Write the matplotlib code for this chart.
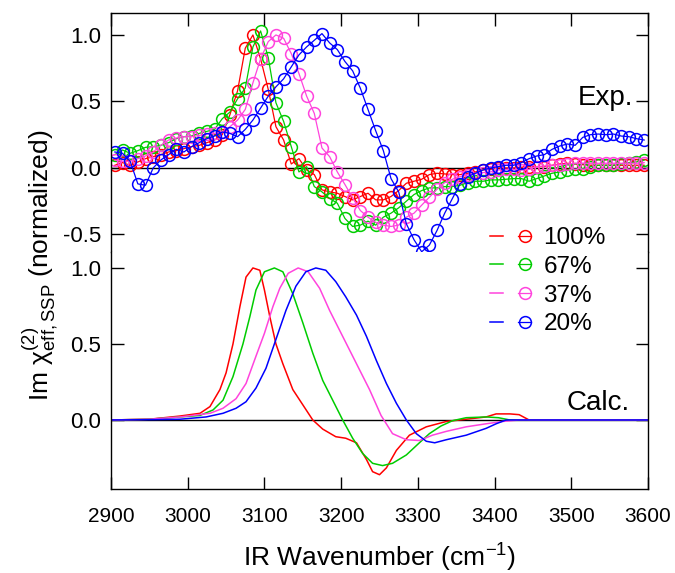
import matplotlib
matplotlib.use('Agg')
import matplotlib.pyplot as plt
from matplotlib.legend_handler import HandlerTuple
from matplotlib.lines import Line2D

plt.rcParams['font.family'] = ['Liberation Sans', 'DejaVu Sans']
plt.rcParams['mathtext.fontset'] = 'custom'
plt.rcParams['mathtext.rm'] = 'Liberation Sans'
plt.rcParams['mathtext.it'] = 'Liberation Sans:italic'

# ---- experimental spectra (open circles), read every ~10 cm-1 ----
wn_exp = [2905 + 10 * i for i in range(70)]

exp_100 = [0.02, 0.04, 0.02, 0.045, 0.07, 0.085, 0.10, 0.12, 0.13, 0.145,
           0.16, 0.17, 0.19, 0.21, 0.25, 0.40, 0.58, 0.90, 1.00, 0.82,
           0.59, 0.31, 0.21, 0.03, 0.07, -0.015, -0.05, -0.165, -0.18, -0.19,
           -0.215, -0.24, -0.215, -0.19, -0.24, -0.24, -0.215, -0.17, -0.115, -0.10,
           -0.085, -0.05, -0.04, -0.045, -0.05, -0.05, -0.04, -0.03, -0.015, -0.01,
           0.0, 0.0, 0.0, 0.005, 0.01, 0.01, 0.01, 0.02, 0.03, 0.035,
           0.03, 0.025, 0.02, 0.02, 0.02, 0.02, 0.02, 0.02, 0.02, 0.02]

exp_67 = [0.10, 0.135, 0.11, 0.13, 0.155, 0.16, 0.17, 0.19, 0.22, 0.235,
          0.24, 0.26, 0.275, 0.29, 0.37, 0.42, 0.52, 0.60, 0.91, 1.03,
          0.83, 0.49, 0.35, 0.16, -0.03, 0.01, -0.14, -0.18, -0.23, -0.265,
          -0.38, -0.44, -0.43, -0.40, -0.43, -0.37, -0.34, -0.30, -0.25, -0.20,
          -0.17, -0.15, -0.15, -0.14, -0.14, -0.13, -0.11, -0.10, -0.10, -0.09,
          -0.09, -0.085, -0.08, -0.08, -0.10, -0.08, -0.06, -0.04, -0.03, -0.015,
          -0.01, -0.005, 0.01, 0.02, 0.02, 0.02, 0.03, 0.04, 0.045, 0.06]

exp_37 = [0.06, 0.05, 0.05, 0.07, 0.09, 0.12, 0.17, 0.21, 0.225, 0.235,
          0.235, 0.245, 0.255, 0.26, 0.27, 0.31, 0.36, 0.44, 0.64, 0.82,
          0.95, 1.00, 0.975, 0.86, 0.71, 0.54, 0.41, 0.15, 0.085, -0.03,
          -0.125, -0.225, -0.32, -0.37, -0.41, -0.43, -0.44, -0.43, -0.37, -0.34,
          -0.28, -0.22, -0.16, -0.11, -0.085, -0.065, -0.05, -0.04, -0.035, -0.03,
          -0.015, -0.01, -0.01, -0.015, -0.01, 0.01, 0.015, 0.02, 0.025, 0.03,
          0.035, 0.035, 0.035, 0.035, 0.035, 0.035, 0.035, 0.035, 0.035, 0.04]

exp_20 = [0.12, 0.11, 0.05, -0.12, -0.13, 0.0, 0.06, 0.10, 0.14, 0.12,
          0.16, 0.19, 0.22, 0.24, 0.27, 0.26, 0.235, 0.29, 0.36, 0.45,
          0.54, 0.61, 0.67, 0.76, 0.85, 0.91, 0.96, 1.01, 0.94, 0.89,
          0.80, 0.73, 0.60, 0.44, 0.28, 0.13, -0.08, -0.18, -0.42, -0.54,
          -0.63, -0.58, -0.47, -0.34, -0.23, -0.12, -0.065, -0.04, -0.015, 0.0,
          0.01, 0.02, 0.02, 0.04, 0.07, 0.09, 0.10, 0.14, 0.165, 0.18,
          0.17, 0.23, 0.25, 0.255, 0.25, 0.255, 0.24, 0.235, 0.22, 0.21]

# ---- calculated spectra (lines) ----
wn_calc_100 = [2900, 2950, 2990, 3016, 3029, 3042, 3050, 3059, 3068, 3076, 3085,
               3094, 3100, 3107, 3115, 3124, 3137, 3150, 3163, 3176, 3193, 3206,
               3220, 3233, 3241, 3250, 3259, 3272, 3289, 3311, 3337, 3363, 3389,
               3402, 3420, 3432, 3445, 3460, 3600]
calc_100 = [0.0, 0.005, 0.026, 0.044, 0.088, 0.20, 0.31, 0.50, 0.745, 0.94, 1.0,
            0.985, 0.855, 0.68, 0.50, 0.37, 0.20, 0.10, 0.0, -0.06, -0.11, -0.12,
            -0.15, -0.26, -0.34, -0.36, -0.315, -0.20, -0.10, -0.045, -0.01, 0.005, 0.02,
            0.04, 0.04, 0.035, 0.0, 0.0, 0.0]

wn_calc_67 = [2900, 2950, 2990, 3016, 3033, 3046, 3059, 3072, 3081, 3089, 3100,
              3113, 3124, 3137, 3150, 3163, 3176, 3189, 3202, 3215, 3228, 3241,
              3254, 3267, 3285, 3302, 3315, 3330, 3345, 3363, 3389, 3405, 3420, 3600]
calc_67 = [0.0, 0.005, 0.02, 0.03, 0.066, 0.13, 0.285, 0.50, 0.68, 0.855, 0.975,
           1.0, 0.975, 0.83, 0.64, 0.44, 0.26, 0.13, 0.0, -0.12, -0.22, -0.285,
           -0.30, -0.285, -0.23, -0.15, -0.09, -0.04, -0.005, 0.015, 0.02, 0.015, 0.0, 0.0]

wn_calc_37 = [2900, 2950, 2990, 3029, 3046, 3063, 3076, 3089, 3100, 3111, 3120,
              3131, 3144, 3157, 3172, 3185, 3198, 3211, 3224, 3237, 3252, 3267,
              3285, 3302, 3319, 3337, 3363, 3389, 3410, 3432, 3600]
calc_37 = [0.0, 0.005, 0.02, 0.044, 0.077, 0.14, 0.24, 0.42, 0.57, 0.745, 0.866,
           0.965, 1.0, 0.975, 0.866, 0.72, 0.59, 0.46, 0.33, 0.20, 0.03, -0.09,
           -0.13, -0.135, -0.10, -0.075, -0.045, -0.025, -0.01, 0.0, 0.0]

wn_calc_20 = [2900, 2950, 2990, 3024, 3046, 3063, 3076, 3089, 3102, 3115, 3128,
              3141, 3154, 3167, 3180, 3193, 3206, 3220, 3233, 3246, 3259, 3272,
              3285, 3298, 3311, 3322, 3337, 3363, 3389, 3402, 3415, 3600]
calc_20 = [0.0, 0.002, 0.005, 0.02, 0.044, 0.077, 0.12, 0.21, 0.34, 0.53, 0.72,
           0.88, 0.975, 1.0, 0.985, 0.91, 0.81, 0.69, 0.55, 0.39, 0.24, 0.11,
           0.0, -0.09, -0.14, -0.15, -0.13, -0.10, -0.055, -0.025, 0.0, 0.0]

labels = ['100%', '67%', '37%', '20%']
colors = ['#FF0000', '#00CC00', '#FF44DD', '#0000FF']
exp_series = [exp_100, exp_67, exp_37, exp_20]
calc_wn = [wn_calc_100, wn_calc_67, wn_calc_37, wn_calc_20]
calc_series = [calc_100, calc_67, calc_37, calc_20]

x_ticks = [2900, 3000, 3100, 3200, 3300, 3400, 3500, 3600]

W, H = 675, 573
fig = plt.figure(figsize=(W / 100, H / 100), dpi=100)
left, right = 111 / W, 648 / W
ax1 = fig.add_axes([left, 1 - 252 / H, right - left, 239 / H])
ax2 = fig.add_axes([left, 1 - 489 / H, right - left, 237 / H])

# top: experiment
for y, c in zip(exp_series, colors):
    ax1.plot(wn_exp, y, color=c, lw=0.9, marker='o', ms=8.5, mfc='none',
             mec=c, mew=1.1)
ax1.axhline(0, color='k', lw=1.0, zorder=1)
ax1.set_xlim(2900, 3600)
ax1.set_ylim(-0.632, 1.165)
ax1.set_yticks([-0.5, 0.0, 0.5, 1.0])
ax1.set_yticklabels(['-0.5', '0.0', '0.5', '1.0'])
ax1.set_xticks(x_ticks)
ax1.tick_params(axis='x', direction='in', top=True, bottom=False,
                labeltop=False, labelbottom=False, length=9, width=1)
ax1.tick_params(axis='y', direction='in', left=True, right=True,
                length=9, width=1, labelsize=16, pad=7)
ax1.spines['bottom'].set_visible(False)
ax1.text(3580, 0.47, 'Exp.', fontsize=20, ha='right', va='baseline')

# bottom: calculation
for xw, y, c in zip(calc_wn, calc_series, colors):
    ax2.plot(xw, y, color=c, lw=1.1)
ax2.axhline(0, color='k', lw=1.0, zorder=1)
ax2.set_xlim(2900, 3600)
ax2.set_ylim(-0.454, 1.105)
ax2.set_yticks([0.0, 0.5, 1.0])
ax2.set_yticklabels(['0.0', '0.5', '1.0'])
ax2.set_xticks(x_ticks)
ax2.tick_params(axis='x', direction='in', top=False, bottom=True,
                length=9, width=1, labelsize=15, pad=13)
ax2.tick_params(axis='y', direction='in', left=True, right=True,
                length=9, width=1, labelsize=16, pad=7)
ax2.spines['top'].set_visible(False)
ax2.text(3576, 0.066, 'Calc.', fontsize=20, ha='right', va='baseline')

for ax in (ax1, ax2):
    for s in ax.spines.values():
        s.set_linewidth(1.0)

ax2.set_xlabel('IR Wavenumber (cm$^{-1}$)', fontsize=19, labelpad=11)
fig.text(40 / W, 1 - 265 / H,
         r'Im $\mathrm{χ}^{(2)}_{\mathrm{eff,SSP}}$ (normalized)',
         rotation=90, fontsize=19, ha='center', va='center')

# legend: calc line + exp marker per concentration
handles = []
for c in colors:
    h_line = Line2D([], [], color=c, lw=1.1)
    h_mark = Line2D([], [], color=c, lw=0.9, marker='o', ms=8.5,
                    mfc='none', mec=c, mew=1.1)
    handles.append((h_line, h_mark))
ax2.legend(handles, labels, handler_map={tuple: HandlerTuple(ndivide=None, pad=0.6)},
           loc='upper left', bbox_to_anchor=(490 / W, 1 - 227 / H),
           bbox_transform=fig.transFigure, frameon=False, fontsize=17.5,
           handlelength=1.7, handletextpad=0.5, labelspacing=0.28,
           borderpad=0, borderaxespad=0, numpoints=1)

fig.savefig('out.png', dpi=100)
